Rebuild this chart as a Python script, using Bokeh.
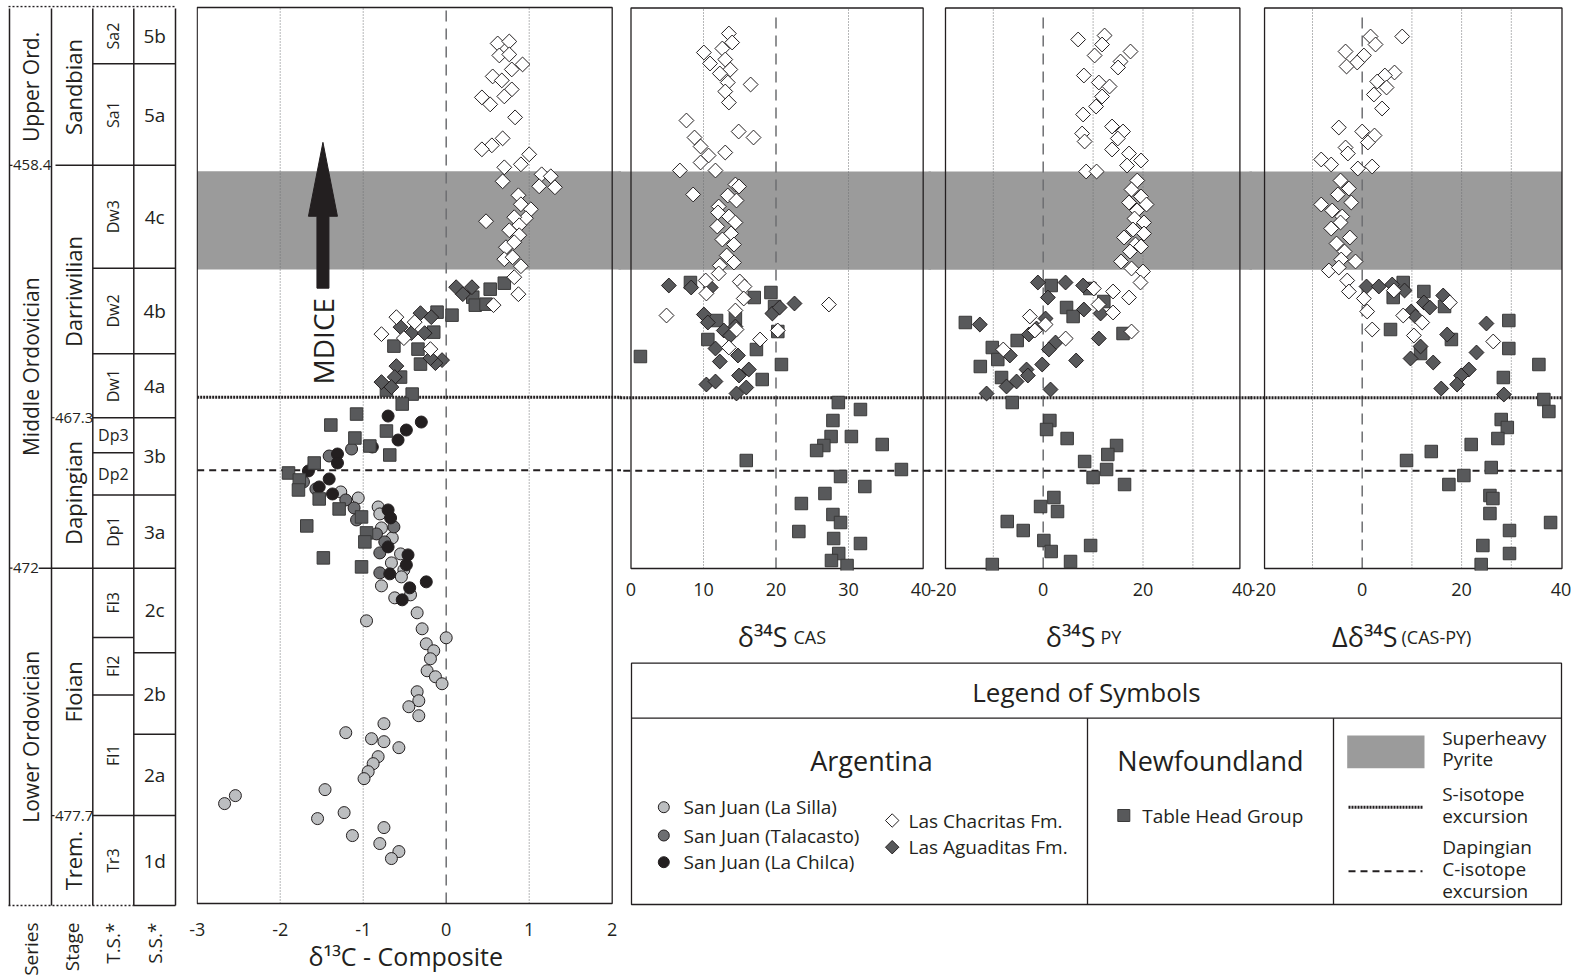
import math
from bokeh.plotting import figure
from bokeh.layouts import row, column
from bokeh.models import Range1d, FixedTicker
from bokeh.embed import file_html
from bokeh.resources import INLINE
from bokeh.core.properties import value

FONT = "Open Sans"
INK = "#231f20"
GRIDC = "#6d6e71"
BAND = "#9b9b9b"
SILLA = "#bcbec0"
TALA = "#6d6e71"
CHILCA = "#231f20"
DARK = "#58595b"
WHITE = "#ffffff"

# ====================== DATA ======================
# y = relative stratigraphic height (0 = base of the composite section)
series_names = ["Upper Ord.", "Middle Ordovician", "Lower Ordovician"]
series_bounds = [896, 739, 335.7, -2]
stage_names = ["Sandbian", "Darriwilian", "Dapingian", "Floian", "Trem."]
stage_bounds = [896, 739, 486.3, 335.7, 88, -2]
ts_names = ["Sa2", "Sa1", "Dw3", "Dw2", "Dw1", "Dp3", "Dp2", "Dp1", "Fl3", "Fl2", "Fl1", "Tr3"]
ts_bounds = [896, 840.7, 739, 636, 550.3, 486.3, 451.3, 409, 335.7, 266.2, 208.7, 88, -2]
ss_names = ["5b", "5a", "4c", "4b", "4a", "3b", "3a", "2c", "2b", "2a", "1d"]
ss_bounds = [896, 840.7, 739, 636, 550.3, 486.3, 409, 335.7, 251, 169.4, 88, -2]
age_labels = ["458.4", "467.3", "472", "477.7"]
age_levels = [739, 486.3, 335.7, 88]
age_in_series = [True, False, True, False]
column_titles = ["Series", "Stage", "T.S.*", "S.S.*"]

superheavy_band = [634.7, 733.0]
s_excursion = 506.7
c_excursion = 433.7

# --- delta13C composite ---
c13_silla_x = [-1.27, -1.06, -0.82, -0.80, -0.78, -0.65, -0.55, -0.66, -0.51, -0.54, -0.78, -0.43, -0.62, -0.35, -0.96, -0.29, 0.00, -0.24, -0.15, -0.19, -0.23, -0.13, -0.05, -0.35, -0.33, -0.45, -0.33, -0.75, -1.21, -0.90, -0.75, -0.57, -0.82, -0.88, -0.94, -0.99, -1.46, -2.54, -2.67, -1.23, -1.55, -0.75, -1.13, -0.80, -0.57, -0.66]
c13_silla_y = [412, 406, 397, 390, 376, 366, 350, 341, 334, 327, 318, 309, 306, 291, 283, 275, 266, 260, 253, 245, 233, 227, 220, 212, 203, 197, 188, 180, 171, 165, 162, 156, 147, 140, 132, 125, 114, 108, 100, 91, 85, 76, 68, 60, 52, 45]
c13_tala_x = [-1.14, -1.41, -1.59, -1.72, -1.57, -1.21, -1.11, -1.08, -0.63, -0.84, -0.80, -0.80, -0.74]
c13_tala_y = [455, 448, 440, 422, 415, 404, 396, 384, 377, 370, 351, 331, 362]
c13_chilca_x = [-0.70, -0.30, -0.48, -0.58, -0.89, -1.31, -1.31, -1.66, -1.41, -1.53, -1.37, -0.70, -0.67, -0.70, -0.46, -0.68, -0.44, -0.24, -0.48, -0.53]
c13_chilca_y = [488, 482, 474, 464, 457, 450, 441, 433, 425, 417, 410, 394, 386, 357, 349, 330, 316, 322, 339, 304]
c13_chac_x = [0.62, 0.76, 0.64, 0.76, 0.92, 0.79, 0.56, 0.67, 0.79, 0.70, 0.43, 0.53, 0.83, 0.68, 0.55, 0.43, 1.00, 0.90, 0.70, 1.15, 1.26, 1.12, 1.31, 0.68, 0.87, 0.90, 1.02, 0.96, 0.82, 0.88, 0.76, 0.88, 0.72, 0.82, 0.70, 0.80, 0.90, 0.82, 0.48, 0.87, 0.57, -0.60, -0.78, -0.38, -0.51, -0.19]
c13_chac_y = [861, 863, 849, 850, 840, 835, 828, 824, 815, 808, 807, 800, 787, 766, 759, 755, 750, 740, 737, 730, 728, 718, 717, 723, 709, 700, 695, 686, 687, 679, 674, 669, 657, 662, 645, 647, 638, 627, 683, 610, 599, 587, 570, 582, 566, 555]
c13_agua_x = [0.12, 0.31, 0.20, -0.55, -0.42, -0.26, -0.05, -0.13, -0.19, -0.60, -0.62, -0.78, -0.66, -0.31, -0.18]
c13_agua_y = [617, 617, 610, 577, 571, 571, 544, 541, 546, 538, 527, 522, 517, 591, 587]
c13_th_x = [0.32, 0.53, 0.70, 0.35, 0.48, -0.11, 0.07, -0.15, -0.63, -0.34, -0.31, -0.55, -0.72, -0.41, -0.53, -1.08, -1.39, -1.10, -0.92, -0.72, -0.68, -1.90, -1.59, -1.77, -1.78, -1.53, -1.29, -1.68, -1.48, -1.02, -1.02, -0.96, -0.98]
c13_th_y = [607, 615, 621, 599, 600, 592, 589, 572, 558, 555, 540, 527, 514, 510, 500, 490, 479, 466, 458, 473, 449, 431, 441, 424, 414, 405, 395, 378, 346, 337, 387, 371, 362]

# --- delta34S CAS ---
cas_chac_x = [13.5, 13.95, 12.6, 10.05, 10.9, 13.0, 13.7, 12.25, 13.35, 16.5, 13.0, 13.5, 7.65, 8.76, 14.85, 16.9, 9.6, 10.7, 13.0, 9.6, 6.74, 11.65, 14.4, 14.9, 8.57, 13.35, 14.55, 12.1, 12.0, 13.5, 14.4, 11.9, 13.8, 12.6, 14.2, 13.2, 14.2, 12.25, 12.1, 10.3, 10.4, 15.0, 15.65, 15.55, 4.9, 14.4, 14.55, 17.8, 13.5, 20.25, 27.3]
cas_chac_y = [871, 862, 856, 852, 841, 845, 835, 831, 822, 820, 813, 802, 784, 767, 773, 767, 758, 749, 752, 742, 734, 734, 720, 718, 710, 709, 704, 698, 692, 688, 682, 678, 671, 665, 660, 649, 642, 639, 631, 624, 611, 623, 618, 606, 589, 594, 575, 565, 557, 574, 600]
cas_agua_x = [5.22, 8.3, 11.0, 22.55, 19.5, 20.5, 10.05, 10.6, 12.8, 14.4, 11.65, 14.75, 12.25, 16.25, 14.9, 10.4, 11.65, 15.9, 14.55, 13.7]
cas_agua_y = [619, 617, 617, 601, 591, 597, 590, 582, 574, 578, 556, 549, 543, 535, 529, 520, 523, 517, 511, 569]
cas_th_x = [8.2, 17.0, 19.3, 19.8, 11.8, 14.4, 10.6, 17.3, 20.25, 1.3, 20.75, 18.1, 28.6, 31.65, 27.85, 27.6, 30.4, 34.65, 26.6, 25.6, 15.9, 37.3, 28.9, 32.25, 26.75, 23.5, 27.85, 28.9, 23.15, 27.95, 31.65, 28.65, 27.65, 29.8]
cas_th_y = [622, 607, 612, 598, 584, 586, 565, 555, 573, 548, 540, 525, 502, 495, 484, 468, 468, 460, 459, 454, 444, 435, 428, 418, 411, 401, 390, 382, 373, 366, 361, 351, 344, 339]

# --- delta34S pyrite ---
py_chac_x = [7.0, 12.3, 11.8, 10.3, 17.5, 15.5, 15.0, 8.15, 11.15, 13.3, 11.8, 10.6, 8.0, 7.8, 8.3, 13.8, 16.0, 14.95, 13.8, 17.2, 16.8, 19.6, 8.6, 10.7, 18.85, 17.7, 19.6, 17.2, 20.7, 18.8, 18.3, 20.2, 18.0, 16.2, 20.2, 18.5, 17.4, 19.6, 15.6, 17.7, 20.0, 19.5, 10.15, 14.0, 17.2, 11.1, 14.0, -2.67, 0.47, 17.7, 4.5, -8.0, -1.67]
py_chac_y = [865, 869, 860, 849, 853, 843, 837, 829, 822, 818, 808, 798, 790, 771, 763, 778, 773, 766, 755, 751, 739, 744, 733, 733, 724, 715, 708, 702, 700, 694, 686, 682, 675, 667, 671, 660, 653, 658, 643, 636, 633, 622, 616, 613, 607, 600, 592, 588, 580, 573, 566, 555, 574]
py_agua_x = [-1.07, 4.48, 8.0, 0.94, 8.15, 11.5, -12.7, -2.87, -1.34, 0.47, 2.47, 1.14, 11.15, 6.6, -0.2, -3.34, -3.07, -5.34, -7.35, -11.35, 1.47, -6.68]
py_agua_y = [622, 622, 619, 607, 595, 591, 580, 570, 576, 586, 562, 555, 566, 544, 540, 535, 529, 523, 518, 511, 515, 549]
py_th_x = [1.6, -15.6, 4.68, 6.0, 9.35, 12.15, -5.21, -10.2, -9.1, -12.6, -8.35, 16.0, -6.2, 1.34, 0.67, 4.8, 14.7, 12.95, 8.3, 12.7, 10.0, 16.3, 2.14, -0.53, 2.87, -7.2, -4.0, 0.13, 9.5, 1.6, -10.2, 5.48]
py_th_y = [619, 582, 597, 588, 616, 603, 564, 557, 545, 538, 527, 571, 502, 484, 475, 466, 459, 450, 443, 435, 427, 420, 407, 398, 393, 383, 374, 364, 359, 353, 340, 343]

# --- Delta delta34S (CAS-PY) ---
dd_chac_x = [1.68, 8.05, 2.68, -3.35, 0.34, -1.0, -3.15, 6.5, 4.56, 3.02, 4.9, 2.35, 4.0, -4.7, 0.0, 2.48, 1.14, -3.35, -2.88, -8.25, -6.24, -0.87, 2.0, -4.36, -2.68, -4.9, -2.2, -8.25, -6.04, -4.02, -4.36, -6.24, -2.48, -5.16, -3.55, -4.23, -1.34, -6.7, -4.7, -3.02, -2.68, 0.34, 1.0, 2.01, 6.37, 8.25, 12.07, 10.4, 17.64, 26.36]
dd_chac_y = [868, 868, 860, 853, 849, 842, 838, 832, 829, 823, 817, 810, 796, 777, 773, 769, 762, 757, 751, 745, 740, 736, 738, 724, 716, 710, 702, 700, 694, 688, 682, 676, 667, 661, 653, 645, 643, 634, 637, 624, 613, 606, 593, 575, 614, 589, 582, 569, 602, 563]
dd_agua_x = [0.87, 3.35, 6.04, 8.52, 12.41, 13.6, 16.3, 9.86, 10.73, 25.0, 17.1, 11.74, 9.73, 14.29, 23.0, 21.46, 19.9, 15.9, 19.1, 28.5]
dd_agua_y = [618, 618, 620, 614, 602, 597, 609, 593, 588, 581, 570, 558, 546, 542, 552, 535, 529, 516, 520, 510]
dd_th_x = [8.25, 6.24, 12.41, 16.57, 29.5, 5.7, 17.95, 29.5, 11.74, 35.55, 28.4, 36.55, 37.56, 27.97, 29.2, 27.3, 21.93, 13.9, 8.92, 25.96, 20.46, 17.44, 25.7, 26.3, 25.7, 37.9, 29.64, 24.28, 29.64, 23.94]
dd_th_y = [622, 607, 613, 598, 584, 575, 565, 556, 551, 540, 527, 505, 493, 485, 477, 466, 460, 453, 444, 437, 429, 420, 409, 406, 391, 382, 374, 359, 351, 340]

main_ticks = [-3, -2, -1, 0, 1, 2]
cas_ticks = [0, 10, 20, 30, 40]
py_ticks = [-20, 0, 20, 40]
dd_ticks = [-20, 0, 20, 40]

# ====================== LAYOUT CONSTANTS (pixels) ======================
BASE_PX = 904          # page row of height 0
FRAME_TOP = 5
MAIN_FB = 908          # bottom of the tall frames
S_FB = 570             # bottom of the sulfur frames
H_TOTAL, H_TOP = 978, 606
W_STRAT, W_MAIN, W_CAS, W_PY, W_DD = 186, 435, 310, 321, 328
OV = 3                 # sulfur panels overlap their left neighbour by this many pixels
MAIN_SCALE, MAIN_ZERO = 83.0, 445.7
CAS_SCALE, CAS_ZERO = 7.25, 630.5
PY_SCALE, PY_ZERO = 4.99, 1042.7
DD_SCALE, DD_ZERO = 4.97, 1361.7
DOTS = "2 1"      # S-isotope excursion line
DASHES = "7 5"    # Dapingian C-isotope excursion line

# -----------------------------------------------------------------------
def tx(f, x, y, text, size, angle=0.0, align="center", baseline="middle", color=INK):
    f.text(x=x, y=y, text=text, angle=angle, text_font=value(FONT),
           text_font_size=value(size), text_align=align, text_baseline=baseline,
           text_color=color)


def bare(f, transparent=False):
    f.outline_line_color = None
    f.xgrid.visible = False
    f.ygrid.visible = False
    if transparent:
        f.background_fill_color = None
        f.border_fill_color = None
    else:
        f.background_fill_color = "white"
        f.border_fill_color = "white"


def make_panel(width, height, fig_left, border_left, zero, scale, frame_bottom, overlap=0):
    x0 = (fig_left - overlap + border_left - zero) / scale
    x1 = (fig_left + width - zero) / scale
    kw = {}
    if overlap:
        kw["margin"] = (0, 0, 0, -overlap)
    f = figure(width=width + overlap, height=height, x_range=Range1d(x0, x1),
               y_range=Range1d(BASE_PX - frame_bottom, BASE_PX - FRAME_TOP),
               min_border_left=border_left, min_border_right=0,
               min_border_top=FRAME_TOP, min_border_bottom=height - frame_bottom,
               output_backend="svg", toolbar_location=None, title=None,
               y_axis_location=None, **kw)
    bare(f, transparent=True)
    return f


def style_axis(f, ticks, standoff, labels=None, size="18px"):
    ax = f.xaxis[0]
    ax.ticker = FixedTicker(ticks=ticks)
    labels = labels or [str(t) for t in ticks]
    ax.major_label_overrides = dict(zip(ticks, labels))
    ax.axis_line_color = None
    ax.major_tick_line_color = None
    ax.minor_tick_line_color = None
    ax.major_label_text_font = FONT
    ax.major_label_text_font_size = size
    ax.major_label_text_color = INK
    ax.major_label_standoff = standoff
    return ax


def decorate(f, box, band_lr, dotted, dashed):
    bl, br, bb, bt = box
    f.quad(left=[band_lr[0]], right=[band_lr[1]], bottom=[superheavy_band[0]],
           top=[superheavy_band[1]], fill_color=BAND, line_color=None)
    f.segment(x0=dotted, x1=dotted, y0=[bb] * len(dotted), y1=[bt] * len(dotted),
              line_color=GRIDC, line_width=1, line_dash="1 2")
    f.segment(x0=dashed, x1=dashed, y0=[bb] * len(dashed), y1=[bt - 3] * len(dashed),
              line_color=GRIDC, line_width=1.5, line_dash="11 7")
    f.segment(x0=[band_lr[0]], x1=[band_lr[1]], y0=[s_excursion], y1=[s_excursion],
              line_color=INK, line_width=3, line_dash=DOTS)
    f.segment(x0=[band_lr[0]], x1=[band_lr[1]], y0=[c_excursion], y1=[c_excursion],
              line_color=INK, line_width=2, line_dash=DASHES)
    f.quad(left=[bl], right=[br], bottom=[bb], top=[bt], fill_color=None,
           line_color=INK, line_width=1.3)


def pts(f, xs, ys, kind):
    if kind == "silla":
        f.scatter(xs, ys, marker="circle", size=12, fill_color=SILLA, line_color=INK, line_width=1)
    elif kind == "tala":
        f.scatter(xs, ys, marker="circle", size=12, fill_color=TALA, line_color=INK, line_width=1)
    elif kind == "chilca":
        f.scatter(xs, ys, marker="circle", size=12, fill_color=CHILCA, line_color=INK, line_width=1)
    elif kind == "chac":
        f.scatter(xs, ys, marker="square", angle=math.pi / 4, size=10.5, fill_color=WHITE,
                  line_color=INK, line_width=1)
    elif kind == "agua":
        f.scatter(xs, ys, marker="square", angle=math.pi / 4, size=10.5, fill_color=DARK,
                  line_color=INK, line_width=1)
    elif kind == "th":
        f.scatter(xs, ys, marker="square", size=12.5, fill_color=DARK, line_color="#3a3a3a",
                  line_width=1)

# ====================== STRATIGRAPHIC COLUMN ======================
COL_X = [9, 51, 92.3, 133.3, 175]
s = figure(width=W_STRAT, height=H_TOTAL, x_range=Range1d(0, W_STRAT),
           y_range=Range1d(BASE_PX - MAIN_FB, BASE_PX - FRAME_TOP),
           min_border_left=0, min_border_right=0, min_border_top=FRAME_TOP,
           min_border_bottom=H_TOTAL - MAIN_FB,
           output_backend="svg", toolbar_location=None, title=None, y_axis_location=None)
bare(s)
col_centers = [(COL_X[i] + COL_X[i + 1]) / 2 for i in range(4)]
sax = style_axis(s, col_centers, 9, labels=column_titles, size="19px")
sax.major_label_orientation = math.pi / 2

top, base = ts_bounds[0], ts_bounds[-1]
s.segment(x0=COL_X, x1=COL_X, y0=[base] * 5, y1=[top] * 5, line_color=INK, line_width=1.5)
s.segment(x0=[COL_X[0] - 1], x1=[COL_X[4]], y0=[top + 2], y1=[top + 2], line_color=INK,
          line_width=1.5, line_dash="2 2")
s.segment(x0=[COL_X[0] - 1], x1=[COL_X[3]], y0=[base], y1=[base], line_color=INK,
          line_width=1.5, line_dash="2 2")
s.segment(x0=[COL_X[3]], x1=[COL_X[4]], y0=[base], y1=[base], line_color=INK, line_width=1.5)
inner_ts = ts_bounds[1:-1]
s.segment(x0=[COL_X[2]] * len(inner_ts), x1=[COL_X[3]] * len(inner_ts), y0=inner_ts, y1=inner_ts,
          line_color=INK, line_width=1.5)
inner_ss = ss_bounds[1:-1]
s.segment(x0=[COL_X[3]] * len(inner_ss), x1=[COL_X[4]] * len(inner_ss), y0=inner_ss, y1=inner_ss,
          line_color=INK, line_width=1.5)
AGE_FS = 15
for lab, lev, in_series in zip(age_labels, age_levels, age_in_series):
    cx = COL_X[0] if in_series else COL_X[1]
    s.segment(x0=[cx], x1=[cx + 3], y0=[lev], y1=[lev], line_color=INK, line_width=1.2)
    tx(s, [cx + 3.5], [lev], [lab], "%gpx" % AGE_FS, align="left")
    if in_series:
        end = cx + 4 + len(lab) * 0.56 * AGE_FS
        s.segment(x0=[end], x1=[COL_X[2]], y0=[lev], y1=[lev], line_color=INK, line_width=1.5)

mid = lambda b: [(b[i] + b[i + 1]) / 2 for i in range(len(b) - 1)]
tx(s, [col_centers[0]] * 3, mid(series_bounds), series_names, "21px", angle=math.pi / 2)
tx(s, [col_centers[1] + 0.5] * 5, mid(stage_bounds), stage_names, "22px", angle=math.pi / 2)
for name, ym in zip(ts_names, mid(ts_bounds)):
    ang = 0.0 if name in ("Dp3", "Dp2") else math.pi / 2
    tx(s, [col_centers[2]], [ym], [name], "16px", angle=ang)
tx(s, [col_centers[3]] * len(ss_names), mid(ss_bounds), ss_names, "19px")

# ====================== MAIN delta13C PANEL ======================
m = make_panel(W_MAIN, H_TOTAL, W_STRAT, 10, MAIN_ZERO, MAIN_SCALE, MAIN_FB)
max_ = style_axis(m, main_ticks, 9)
max_.axis_label = "δ¹³C  - Composite"
max_.axis_label_text_font = FONT
max_.axis_label_text_font_size = "25px"
max_.axis_label_text_font_style = "normal"
max_.axis_label_text_color = INK
max_.axis_label_standoff = 0
m_end = m.x_range.end
decorate(m, (-3, 2, 0, 897), (-3, m_end + 1), [-2, -1, 1], [0])
# MDICE arrow
ax_c, sw, hw = -1.485, 6 / MAIN_SCALE, 14.5 / MAIN_SCALE
tail, hbase, tip = 616, 688, 762
m.patch(x=[ax_c - sw, ax_c - sw, ax_c - hw, ax_c, ax_c + hw, ax_c + sw, ax_c + sw],
        y=[tail, hbase, hbase, tip, hbase, hbase, tail], fill_color=INK, line_color=INK)
tx(m, [ax_c], [563], ["MDICE"], "28px", angle=math.pi / 2)
pts(m, c13_silla_x, c13_silla_y, "silla")
pts(m, c13_tala_x, c13_tala_y, "tala")
pts(m, c13_chilca_x, c13_chilca_y, "chilca")
pts(m, c13_th_x, c13_th_y, "th")
pts(m, c13_agua_x, c13_agua_y, "agua")
pts(m, c13_chac_x, c13_chac_y, "chac")

# ====================== SULFUR PANELS ======================
S_BOX_B, S_BOX_T = BASE_PX - 568, 896.5
cas = make_panel(W_CAS, H_TOP, W_STRAT + W_MAIN, 0, CAS_ZERO, CAS_SCALE, S_FB, OV)
style_axis(cas, cas_ticks, 6)
decorate(cas, (0, 40.3, S_BOX_B, S_BOX_T), (cas.x_range.start - 1, cas.x_range.end + 1),
         [10, 30], [20])
pts(cas, cas_th_x, cas_th_y, "th")
pts(cas, cas_agua_x, cas_agua_y, "agua")
pts(cas, cas_chac_x, cas_chac_y, "chac")

py = make_panel(W_PY, H_TOP, W_STRAT + W_MAIN + W_CAS, 0, PY_ZERO, PY_SCALE, S_FB, OV)
style_axis(py, py_ticks, 6)
decorate(py, (-19.58, 39.42, S_BOX_B, S_BOX_T), (py.x_range.start - 1, py.x_range.end + 1),
         [-10, 10, 20, 30], [0])
pts(py, py_th_x, py_th_y, "th")
pts(py, py_agua_x, py_agua_y, "agua")
pts(py, py_chac_x, py_chac_y, "chac")

dd = make_panel(W_DD, H_TOP, W_STRAT + W_MAIN + W_CAS + W_PY, 0, DD_ZERO, DD_SCALE, S_FB, OV)
style_axis(dd, dd_ticks, 6)
decorate(dd, (-19.65, 40.2, S_BOX_B, S_BOX_T), (dd.x_range.start - 1, 40.2),
         [-10, 10, 20, 30], [0])
pts(dd, dd_th_x, dd_th_y, "th")
pts(dd, dd_agua_x, dd_agua_y, "agua")
pts(dd, dd_chac_x, dd_chac_y, "chac")

# ====================== AXIS TITLES + LEGEND BOX (page-pixel canvas) ======================
LX0 = W_STRAT + W_MAIN
leg = figure(width=W_CAS + W_PY + W_DD, height=H_TOTAL - H_TOP,
             x_range=Range1d(LX0, LX0 + W_CAS + W_PY + W_DD), y_range=Range1d(H_TOTAL, H_TOP),
             min_border_left=0, min_border_right=0, min_border_top=0, min_border_bottom=0,
             output_backend="svg", toolbar_location=None, title=None,
             x_axis_location=None, y_axis_location=None)
bare(leg)
# sulfur axis titles
tx(leg, [787, 1095, 1397], [636] * 3, ["δ³⁴S", "δ³⁴S", "Δδ³⁴S"], "27px", align="right",
   baseline="alphabetic")
tx(leg, [793, 1100, 1401], [636] * 3, ["CAS", "PY", "(CAS-PY)"], "18px", align="left",
   baseline="alphabetic")

leg.quad(left=[631], right=[1561], top=[662.7], bottom=[904], fill_color=None,
         line_color=INK, line_width=1.3)
leg.segment(x0=[631, 1087, 1333], x1=[1561, 1087, 1333], y0=[717.7] * 3, y1=[717.7, 904, 904],
            line_color=INK, line_width=1.3)
tx(leg, [1086], [691], ["Legend of Symbols"], "26px")
tx(leg, [871], [760], ["Argentina"], "27px")
tx(leg, [1210], [760], ["Newfoundland"], "27px")
circ_y = [806.7, 835, 861.7]
leg.scatter([663.3] * 3, circ_y, marker="circle", size=11, fill_color=[SILLA, TALA, CHILCA],
            line_color=INK, line_width=1)
tx(leg, [683] * 3, circ_y, ["San Juan (La Silla)", "San Juan (Talacasto)", "San Juan (La Chilca)"],
   "19px", align="left")
dia_y = [820, 846.7]
leg.scatter([891.7] * 2, dia_y, marker="square", angle=math.pi / 4, size=9.5,
            fill_color=[WHITE, DARK], line_color=INK, line_width=1)
tx(leg, [908] * 2, dia_y, ["Las Chacritas Fm.", "Las Aguaditas Fm."], "19px", align="left")
leg.scatter([1123.3], [815], marker="square", size=12, fill_color=DARK, line_color="#3a3a3a",
            line_width=1)
tx(leg, [1141.7], [815], ["Table Head Group"], "19px", align="left")
leg.quad(left=[1346.7], right=[1424], top=[735], bottom=[767.7], fill_color=BAND, line_color=None)
leg.segment(x0=[1348], x1=[1422], y0=[806.7], y1=[806.7], line_color=INK, line_width=3,
            line_dash=DOTS)
leg.segment(x0=[1348], x1=[1422], y0=[870.7], y1=[870.7], line_color=INK, line_width=2,
            line_dash=DASHES)
tx(leg, [1441.7] * 7, [737.3, 758.3, 793.3, 815, 846.7, 868.3, 890],
   ["Superheavy", "Pyrite", "S-isotope", "excursion", "Dapingian", "C-isotope", "excursion"],
   "19px", align="left")

layout = row(s, m, column(row(cas, py, dd), leg))
open("out.html", "w").write(file_html(layout, INLINE))
